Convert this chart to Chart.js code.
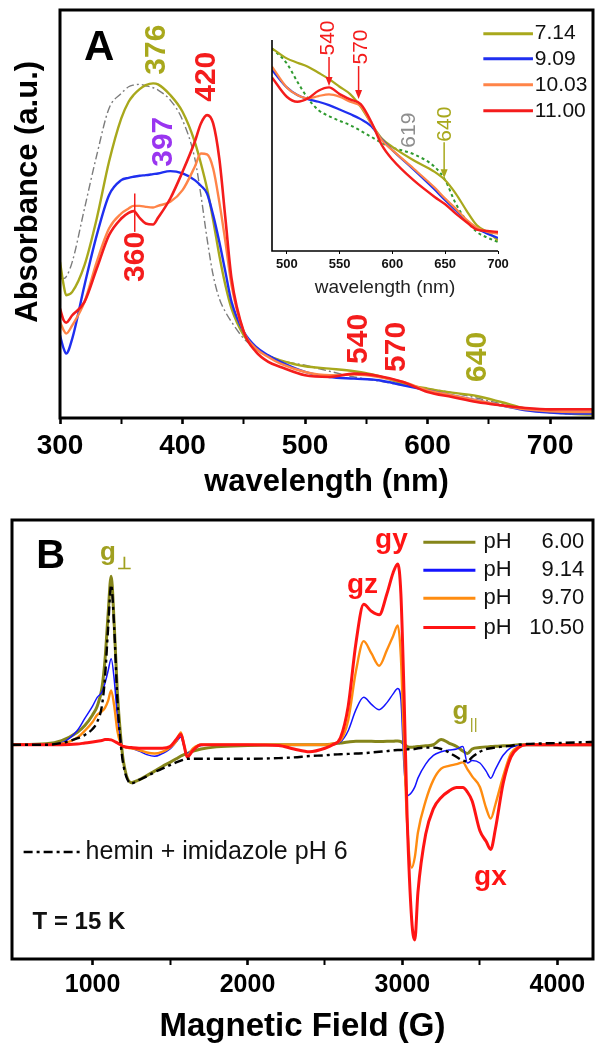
<!DOCTYPE html>
<html><head><meta charset="utf-8">
<script src="https://cdn.jsdelivr.net/npm/chart.js@4.4.1/dist/chart.umd.min.js"></script>
<style>
html,body{margin:0;padding:0;background:#fff;}
#wrap{position:relative;width:606px;height:1050px;background:#fff;}
canvas{position:absolute;}
#cA{left:0;top:0;} #cIn{left:230px;top:20px;} #cB{left:0;top:505px;}
</style></head><body>
<div id="wrap">
<canvas id="cA" width="606" height="505"></canvas>
<canvas id="cIn" width="290" height="290"></canvas>
<canvas id="cB" width="606" height="545"></canvas>
</div>
<script>
const FONT = '"Liberation Sans", Arial, Helvetica, sans-serif';
const NARROW = '"Liberation Sans Narrow", "Liberation Sans", Arial, sans-serif';

// ---------- Panel A: UV-vis (arbitrary absorbance units) ----------
const wavelengthA = [300,303,305,310,320,330,340,350,356,360,365,370,376,380,390,400,410,415,420,425,430,435,440,450,460,470,480,500,520,540,560,580,600,620,640,660,680,700,720,735];
const absA_714 = [468,398,368,378,458,598,768,898,948,968,986,998,1003,1000,968,918,828,763,688,593,488,398,328,248,208,186,173,155,148,140,126,103,88,76,66,48,28,18,12,10];
const absA_909 = [248,208,193,238,398,548,668,713,720,723,726,728,731,733,740,733,713,696,673,608,528,438,348,258,213,188,168,138,123,118,113,98,83,68,53,38,23,16,13,13];
const absA_1003 = [288,263,253,278,348,468,568,613,628,636,636,633,631,636,648,683,753,793,790,748,648,528,398,258,208,183,163,138,128,130,123,108,83,68,53,38,26,20,18,18];
const absA_1100 = [328,293,286,308,348,448,548,598,615,620,600,583,580,600,658,738,828,883,908,883,778,598,418,258,198,168,153,128,123,133,126,108,78,63,48,38,30,26,26,26];
const absA_ref = [418,418,423,468,628,788,928,973,993,998,1000,996,990,983,953,893,778,668,538,428,358,318,288,238,208,188,173,158,140,123,111,98,88,76,60,43,28,16,12,12];
const seriesA = ['7.14','9.09','10.03','11.00'];
const tickPosA = [300,350,400,450,500,550,600,650,700];
const ticksA = [300,400,500,600,700];

// inset
const wavelengthIn = [486,500,510,520,530,540,550,560,570,580,590,600,620,640,650,660,670,680,690,700];
const absIn_714 = [607,577,564,552,534,515,492,470,432,382,337,312,272,237,212,172,122,77,57,32];
const absIn_909 = [542,490,467,455,447,437,424,410,395,374,334,302,244,184,152,122,92,67,52,39];
const absIn_1003 = [552,490,467,457,464,469,462,447,434,382,332,302,247,190,157,127,94,70,57,52];
const absIn_1100 = [520,462,447,457,480,490,470,454,440,387,317,274,212,162,140,112,87,64,60,57];
const absIn_ref = [607,562,507,457,422,404,390,377,360,342,324,310,290,252,212,142,92,57,40,27];
const ticksIn = [500,550,600,650,700];

// ---------- Panel B: EPR ----------
const fieldB = [480,700,800,900,950,1000,1030,1060,1080,1100,1120,1140,1160,1180,1200,1250,1300,1350,1400,1450,1500,1540,1570,1590,1610,1650,1700,1800,2000,2200,2300,2400,2500,2550,2600,2650,2700,2750,2800,2850,2900,2940,2970,2990,3010,3030,3060,3080,3100,3150,3200,3250,3300,3350,3390,3420,3450,3500,3540,3570,3600,3650,3700,3750,3800,4000,4225];
const eprB_600 = [0,3,12,35,55,85,110,160,240,370,480,340,150,30,-50,-108,-100,-88,-75,-62,-50,-40,-32,-28,-25,-18,-12,-6,-2,0,0,0,0,2,5,8,10,10,10,9,10,10,11,9,2,-5,-7,-6,-5,-3,0,15,5,-5,-18,-25,-12,-8,-6,-5,-4,-3,-2,0,0,0,0];
const eprB_hemin = [0,0,5,18,28,45,65,110,190,330,455,330,130,10,-60,-110,-100,-90,-78,-68,-58,-50,-45,-42,-40,-40,-40,-40,-40,-38,-36,-32,-30,-28,-27,-26,-25,-24,-22,-20,-18,-16,-15,-15,-14,-13,-12,-12,-10,-8,-8,-12,-22,-35,-45,-48,-35,-20,-12,-10,-8,-5,-3,0,2,5,8];
const eprB_914 = [0,2,6,40,75,110,135,150,175,210,245,185,80,15,-5,-10,-18,-28,-33,-25,-12,8,22,-5,-25,-10,-2,0,0,0,0,0,0,2,8,40,100,135,115,100,120,145,160,130,-60,-145,-135,-120,-95,-55,-30,-20,-15,-12,-5,-52,-45,-52,-75,-95,-70,-30,-8,-2,0,0,0];
const eprB_970 = [0,1,3,20,40,65,85,95,105,125,155,110,40,5,-5,-10,-15,-22,-25,-20,-8,10,35,0,-30,-10,0,0,0,0,0,0,0,3,12,70,210,295,260,225,270,310,340,250,0,-220,-350,-320,-250,-160,-100,-68,-60,-55,-50,-70,-90,-120,-180,-210,-170,-90,-25,-5,0,0,0];
const eprB_1050 = [0,0,0,2,5,8,10,12,15,15,14,10,5,0,-5,-8,-10,-10,-10,-10,-5,15,30,0,-35,-15,0,0,0,-2,-12,-20,-10,0,20,110,290,400,380,370,430,490,515,430,150,-200,-500,-556,-420,-255,-182,-150,-132,-122,-122,-135,-160,-245,-275,-298,-240,-110,-35,-8,0,0,0];
const seriesB = ['6.00','9.14','9.70','10.50'];
const tickPosB = [1000,1500,2000,2500,3000,3500,4000];
const ticksB = [1000,2000,3000,4000];

// ---------- colours ----------
const OLIVE_A = '#a8a81c', BLUE_A = '#1f2ff0', ORANGE_A = '#ff8448', RED_A = '#f41c1c', GRAY_A = '#7c7c7c';
const GREEN_IN = '#2f9a2f', PURPLE = '#9a35f0', GRAY_LBL = '#8e8e8e';
const OLIVE_B = '#85851a', BLUE_B = '#1414ff', ORANGE_B = '#ff8c10', RED_B = '#ff1414', OLIVE_LBL = '#a0a020';

const toXY = (xs, ys) => xs.map((x, i) => ({x, y: ys[i]}));
const setTicks = arr => s => { s.ticks = arr.map(v => ({value: v})); };

function drawText(ctx, t, px, py, font, color, align, rotate) {
  ctx.save();
  ctx.translate(px, py);
  if (rotate) ctx.rotate(-Math.PI / 2);
  ctx.font = font; ctx.fillStyle = color;
  ctx.textAlign = align || 'center'; ctx.textBaseline = 'middle';
  ctx.fillText(t, 0, 0);
  ctx.restore();
}
function drawArrow(ctx, px, py1, py2, color) {
  ctx.save(); ctx.strokeStyle = color; ctx.fillStyle = color; ctx.lineWidth = 1.5;
  ctx.beginPath(); ctx.moveTo(px, py1); ctx.lineTo(px, py2 - 6); ctx.stroke();
  ctx.beginPath(); ctx.moveTo(px - 3.5, py2 - 9); ctx.lineTo(px + 3.5, py2 - 9); ctx.lineTo(px, py2); ctx.closePath(); ctx.fill();
  ctx.restore();
}
const framePlugin = {id: 'frame', afterDatasetsDraw(chart) {
  const {ctx, chartArea: a} = chart;
  ctx.save(); ctx.strokeStyle = '#000'; ctx.lineWidth = 3;
  ctx.strokeRect(a.left, a.top, a.right - a.left, a.bottom - a.top);
  ctx.restore();
}};
const line = (label, xs, ys, color, width, dash) => ({
  label, data: toXY(xs, ys), borderColor: color, borderWidth: width, borderDash: dash || [],
  pointRadius: 0, fill: false, cubicInterpolationMode: 'monotone'
});

// ---------- Panel A annotations ----------
const peakLabelsA = [
  {t: '376', x: 379, y: 1104, c: OLIVE_A},
  {t: '420', x: 420, y: 1023, c: RED_A},
  {t: '397', x: 385, y: 828, c: PURPLE},
  {t: '360', x: 362, y: 483, c: RED_A},
  {t: '540', x: 544, y: 237, c: RED_A},
  {t: '570', x: 575, y: 213, c: RED_A},
  {t: '640', x: 641, y: 183, c: OLIVE_A}
];
const legendRowsA = [1152, 1077, 999, 921];
const colorsA = [OLIVE_A, BLUE_A, ORANGE_A, RED_A];

const annA = {id: 'annA', afterDraw(chart) {
  const {ctx, scales: {x, y}} = chart;
  drawText(ctx, 'Absorbance (a.u.)', x.left - 32, y.getPixelForValue(678), 'bold 31px ' + FONT, '#000', 'center', true);
  drawText(ctx, 'A', x.getPixelForValue(332), y.getPixelForValue(1107), 'bold 42px ' + FONT, '#000');
  peakLabelsA.forEach(l => drawText(ctx, l.t, x.getPixelForValue(l.x), y.getPixelForValue(l.y), 'bold 30px ' + FONT, l.c, 'center', true));
  ctx.save(); ctx.strokeStyle = RED_A; ctx.lineWidth = 1.5; ctx.beginPath();
  ctx.moveTo(x.getPixelForValue(361), y.getPixelForValue(673)); ctx.lineTo(x.getPixelForValue(361), y.getPixelForValue(558)); ctx.stroke(); ctx.restore();
  seriesA.forEach((s, i) => {
    const py = y.getPixelForValue(legendRowsA[i]);
    ctx.save(); ctx.strokeStyle = colorsA[i]; ctx.lineWidth = 3; ctx.beginPath();
    ctx.moveTo(x.getPixelForValue(645.5), py); ctx.lineTo(x.getPixelForValue(686), py); ctx.stroke(); ctx.restore();
    drawText(ctx, s, x.getPixelForValue(687.5), py, '21px ' + FONT, '#111', 'left');
  });
}};

new Chart(document.getElementById('cA'), {
  type: 'line',
  data: {datasets: [
    line('11.00', wavelengthA, absA_1100, RED_A, 2.6),
    line('10.03', wavelengthA, absA_1003, ORANGE_A, 2.4),
    line('9.09', wavelengthA, absA_909, BLUE_A, 2.4),
    line('7.14', wavelengthA, absA_714, OLIVE_A, 2.4),
    line('ref', wavelengthA, absA_ref, GRAY_A, 1.4, [8, 3, 2, 3])
  ]},
  options: {
    responsive: false, animation: false, devicePixelRatio: 1,
    layout: {padding: {left: 60, right: 13, top: 10, bottom: 0}},
    plugins: {legend: {display: false}, tooltip: {enabled: false}},
    scales: {
      x: {type: 'linear', min: 300, max: 735,
        afterBuildTicks: setTicks(tickPosA), afterFit: s => { s.height = 87; },
        ticks: {autoSkip: false, maxRotation: 0, color: '#000', padding: 5,
          font: {family: FONT, size: 28, weight: 'bold'},
          callback: v => ticksA.includes(v) ? String(v) : ''},
        grid: {drawOnChartArea: false, drawTicks: true, tickLength: 6, tickColor: '#000',
          tickWidth: c => (c.tick && ticksA.includes(c.tick.value)) ? 2.6 : 2},
        border: {display: false},
        title: {display: true, text: 'wavelength (nm)', color: '#000', font: {family: FONT, size: 31, weight: 'bold'}, padding: {top: 0, bottom: 4}}
      },
      y: {display: false, min: 0, max: 1223}
    }
  },
  plugins: [framePlugin, annA]
});

// ---------- inset ----------
const insetLabels = [
  {t: '540', x: 539, y: 638, c: RED_A, ax: 540, a: [581, 494]},
  {t: '570', x: 570, y: 611, c: RED_A, ax: 568, a: [554, 455]},
  {t: '619', x: 616, y: 362, c: GRAY_LBL},
  {t: '640', x: 650, y: 380, c: OLIVE_A, ax: 649, a: [326, 218]}
];
const annIn = {id: 'annIn', afterDraw(chart) {
  const {ctx, chartArea: a, scales: {x, y}} = chart;
  ctx.save(); ctx.strokeStyle = '#000'; ctx.lineWidth = 1.6; ctx.beginPath();
  ctx.moveTo(a.left, a.top); ctx.lineTo(a.left, a.bottom); ctx.lineTo(a.right, a.bottom); ctx.stroke(); ctx.restore();
  insetLabels.forEach(l => {
    drawText(ctx, l.t, x.getPixelForValue(l.x), y.getPixelForValue(l.y), '21px ' + FONT, l.c, 'center', true);
    if (l.a) drawArrow(ctx, x.getPixelForValue(l.ax), y.getPixelForValue(l.a[0]), y.getPixelForValue(l.a[1]), l.c);
  });
}};
new Chart(document.getElementById('cIn'), {
  type: 'line',
  data: {datasets: [
    line('11.00', wavelengthIn, absIn_1100, RED_A, 2.4),
    line('10.03', wavelengthIn, absIn_1003, ORANGE_A, 2.2),
    line('9.09', wavelengthIn, absIn_909, BLUE_A, 2.2),
    line('7.14', wavelengthIn, absIn_714, OLIVE_A, 2.2),
    line('ref', wavelengthIn, absIn_ref, GREEN_IN, 2, [3, 3])
  ]},
  options: {
    responsive: false, animation: false, devicePixelRatio: 1,
    layout: {padding: {left: 42, right: 22, top: 20, bottom: 0}},
    plugins: {legend: {display: false}, tooltip: {enabled: false}},
    scales: {
      x: {type: 'linear', min: 486, max: 700,
        afterBuildTicks: setTicks(ticksIn), afterFit: s => { s.height = 59; },
        ticks: {autoSkip: false, maxRotation: 0, color: '#111', padding: 3, font: {family: NARROW, size: 13, weight: 'bold'}},
        grid: {drawOnChartArea: false, tickLength: 3, tickColor: '#000', tickWidth: 1},
        border: {display: false},
        title: {display: true, text: 'wavelength (nm)', color: '#222', font: {family: FONT, size: 19}, padding: {top: 0, bottom: 11}}
      },
      y: {display: false, min: 0, max: 632}
    }
  },
  plugins: [annIn]
});

// ---------- Panel B ----------
const gLabelsB = [
  {t: 'g', x: 1100, y: 546, c: OLIVE_LBL, f: 'bold 26px '},
  {t: '\u22A5', x: 1206, y: 515, c: OLIVE_LBL, f: 'bold 17px '},
  {t: 'gz', x: 2742, y: 455, c: RED_B, f: 'bold 28px '},
  {t: 'gy', x: 2929, y: 583, c: RED_B, f: 'bold 28px '},
  {t: 'gx', x: 3568, y: -377, c: RED_B, f: 'bold 28px '},
  {t: 'g', x: 3374, y: 95, c: OLIVE_LBL, f: 'bold 26px '},
  {t: '||', x: 3460, y: 56, c: OLIVE_LBL, f: '15px '}
];
const legendRowsB = [577, 497, 417, 334];
const colorsB = [OLIVE_B, BLUE_B, ORANGE_B, RED_B];
const annB = {id: 'annB', afterDraw(chart) {
  const {ctx, scales: {x, y}} = chart;
  drawText(ctx, 'B', x.getPixelForValue(729), y.getPixelForValue(535), 'bold 40px ' + FONT, '#000');
  gLabelsB.forEach(l => drawText(ctx, l.t, x.getPixelForValue(l.x), y.getPixelForValue(l.y), l.f + FONT, l.c));
  seriesB.forEach((s, i) => {
    const py = y.getPixelForValue(legendRowsB[i]);
    ctx.save(); ctx.strokeStyle = colorsB[i]; ctx.lineWidth = 3; ctx.beginPath();
    ctx.moveTo(x.getPixelForValue(3135), py); ctx.lineTo(x.getPixelForValue(3471), py); ctx.stroke(); ctx.restore();
    drawText(ctx, 'pH', x.getPixelForValue(3523), py, '22px ' + FONT, '#111', 'left');
    drawText(ctx, s, x.getPixelForValue(4174), py, '22px ' + FONT, '#111', 'right');
  });
  const hy = y.getPixelForValue(-305);
  ctx.save(); ctx.strokeStyle = '#000'; ctx.lineWidth = 2.5; ctx.setLineDash([9, 4, 3, 4]); ctx.beginPath();
  ctx.moveTo(x.getPixelForValue(555), hy); ctx.lineTo(x.getPixelForValue(929), hy); ctx.stroke(); ctx.restore();
  drawText(ctx, 'hemin + imidazole pH 6', x.getPixelForValue(955), hy, '25px ' + FONT, '#111', 'left');
  drawText(ctx, 'T = 15 K', x.getPixelForValue(613), y.getPixelForValue(-505), 'bold 24px ' + FONT, '#111', 'left');
}};
new Chart(document.getElementById('cB'), {
  type: 'line',
  data: {datasets: [
    line('hemin + imidazole pH 6', fieldB, eprB_hemin, '#000', 2.4, [9, 4, 3, 4]),
    line('pH 10.50', fieldB, eprB_1050, RED_B, 3),
    line('pH 9.70', fieldB, eprB_970, ORANGE_B, 2.4),
    line('pH 9.14', fieldB, eprB_914, BLUE_B, 1.5),
    line('pH 6.00', fieldB, eprB_600, OLIVE_B, 3)
  ]},
  options: {
    responsive: false, animation: false, devicePixelRatio: 1,
    layout: {padding: {left: 12, right: 13, top: 15, bottom: 0}},
    plugins: {legend: {display: false}, tooltip: {enabled: false}},
    scales: {
      x: {type: 'linear', min: 480, max: 4230,
        afterBuildTicks: setTicks(tickPosB), afterFit: s => { s.height = 91; },
        ticks: {autoSkip: false, maxRotation: 0, color: '#000', padding: 5,
          font: {family: FONT, size: 25, weight: 'bold'},
          callback: v => ticksB.includes(v) ? String(v) : ''},
        grid: {drawOnChartArea: false, drawTicks: true, tickLength: 6, tickColor: '#000',
          tickWidth: c => (c.tick && ticksB.includes(c.tick.value)) ? 2.6 : 2},
        border: {display: false},
        title: {display: true, text: 'Magnetic Field (G)', color: '#000', font: {family: FONT, size: 33, weight: 'bold'}, padding: {top: 0, bottom: 3}}
      },
      y: {display: false, min: -610, max: 640}
    }
  },
  plugins: [framePlugin, annB]
});
</script>
</body></html>
